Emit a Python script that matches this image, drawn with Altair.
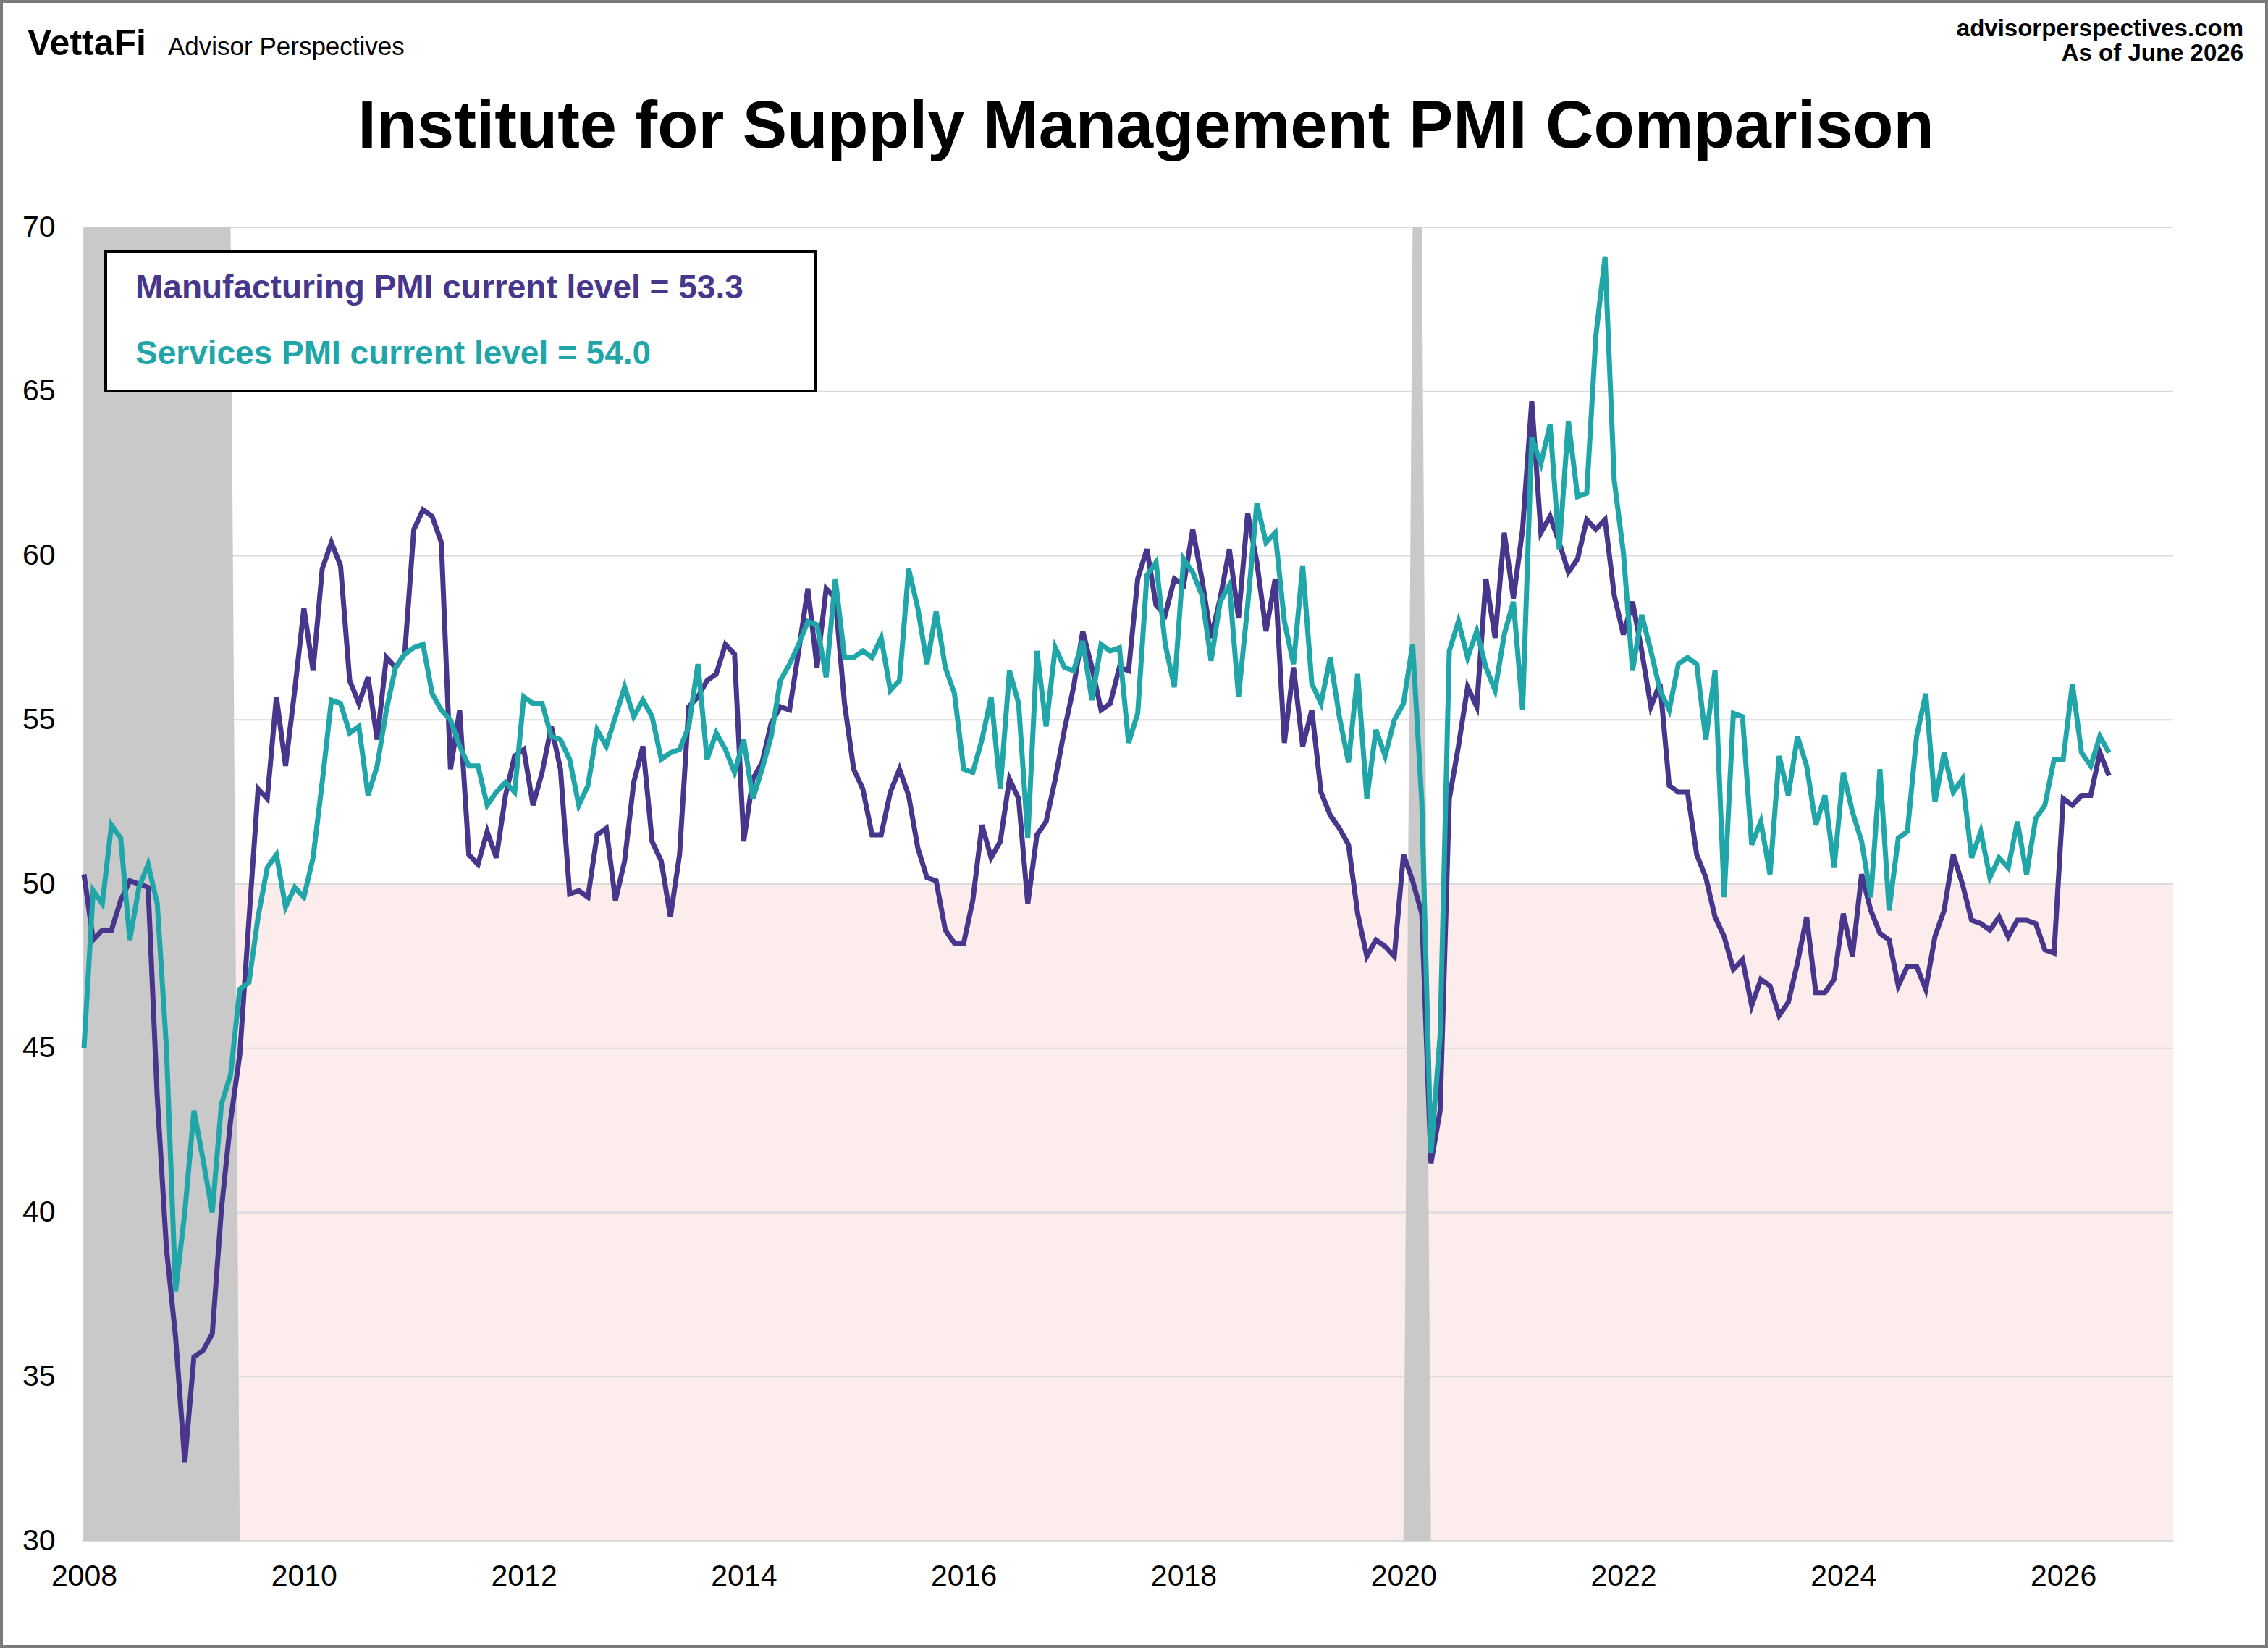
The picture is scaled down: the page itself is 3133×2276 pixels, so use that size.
import altair as alt
import pandas as pd

# ---------------- data (monthly, Jan 2008 - Jun 2026) ----------------
manufacturing = [
    50.3, 48.3, 48.6, 48.6, 49.5, 50.1, 50.0, 49.9, 43.5, 38.9, 36.2, 32.4,  # 2008
    35.6, 35.8, 36.3, 40.1, 42.8, 44.8, 48.9, 52.9, 52.6, 55.7, 53.6, 55.9,  # 2009
    58.4, 56.5, 59.6, 60.4, 59.7, 56.2, 55.5, 56.3, 54.4, 56.9, 56.6, 57.0,  # 2010
    60.8, 61.4, 61.2, 60.4, 53.5, 55.3, 50.9, 50.6, 51.6, 50.8, 52.7, 53.9,  # 2011
    54.1, 52.4, 53.4, 54.8, 53.5, 49.7, 49.8, 49.6, 51.5, 51.7, 49.5, 50.7,  # 2012
    53.1, 54.2, 51.3, 50.7, 49.0, 50.9, 55.4, 55.7, 56.2, 56.4, 57.3, 57.0,  # 2013
    51.3, 53.2, 53.7, 54.9, 55.4, 55.3, 57.1, 59.0, 56.6, 59.0, 58.7, 55.5,  # 2014
    53.5, 52.9, 51.5, 51.5, 52.8, 53.5, 52.7, 51.1, 50.2, 50.1, 48.6, 48.2,  # 2015
    48.2, 49.5, 51.8, 50.8, 51.3, 53.2, 52.6, 49.4, 51.5, 51.9, 53.2, 54.7,  # 2016
    56.0, 57.7, 56.6, 55.3, 55.5, 56.6, 56.5, 59.3, 60.2, 58.5, 58.2, 59.3,  # 2017
    59.1, 60.8, 59.3, 57.5, 58.7, 60.2, 58.1, 61.3, 59.8, 57.7, 59.3, 54.3,  # 2018
    56.6, 54.2, 55.3, 52.8, 52.1, 51.7, 51.2, 49.1, 47.8, 48.3, 48.1, 47.8,  # 2019
    50.9, 50.1, 49.1, 41.5, 43.1, 52.6, 54.2, 56.0, 55.4, 59.3, 57.5, 60.7,  # 2020
    58.7, 60.8, 64.7, 60.7, 61.2, 60.4, 59.5, 59.9, 61.1, 60.8, 61.1, 58.8,  # 2021
    57.6, 58.6, 57.1, 55.4, 56.1, 53.0, 52.8, 52.8, 50.9, 50.2, 49.0, 48.4,  # 2022
    47.4, 47.7, 46.3, 47.1, 46.9, 46.0, 46.4, 47.6, 49.0, 46.7, 46.7, 47.1,  # 2023
    49.1, 47.8, 50.3, 49.2, 48.5, 48.3, 46.9, 47.5, 47.5, 46.8, 48.4, 49.2,  # 2024
    50.9, 50.0, 48.9, 48.8, 48.6, 49.0, 48.4, 48.9, 48.9, 48.8, 48.0, 47.9,  # 2025
    52.6, 52.4, 52.7, 52.7, 54.0, 53.3,                                      # 2026
]

services = [
    45.0, 49.8, 49.4, 51.8, 51.4, 48.3, 49.9, 50.6, 49.4, 45.0, 37.6, 40.0,  # 2008
    43.1, 41.6, 40.0, 43.3, 44.2, 46.8, 47.0, 49.0, 50.5, 50.9, 49.3, 49.9,  # 2009
    49.6, 50.8, 53.1, 55.6, 55.5, 54.6, 54.8, 52.7, 53.6, 55.3, 56.6, 57.0,  # 2010
    57.2, 57.3, 55.8, 55.3, 55.0, 54.2, 53.6, 53.6, 52.4, 52.8, 53.1, 52.8,  # 2011
    55.7, 55.5, 55.5, 54.5, 54.4, 53.8, 52.4, 53.0, 54.7, 54.2, 55.1, 56.0,  # 2012
    55.1, 55.6, 55.1, 53.8, 54.0, 54.1, 54.8, 56.7, 53.8, 54.6, 54.1, 53.4,  # 2013
    54.4, 52.6, 53.5, 54.5, 56.2, 56.7, 57.3, 58.0, 57.9, 56.3, 59.3, 56.9,  # 2014
    56.9, 57.1, 56.9, 57.5, 55.9, 56.2, 59.6, 58.4, 56.7, 58.3, 56.6, 55.8,  # 2015
    53.5, 53.4, 54.4, 55.7, 52.9, 56.5, 55.5, 51.4, 57.1, 54.8, 57.2, 56.6,  # 2016
    56.5, 57.4, 55.6, 57.3, 57.1, 57.2, 54.3, 55.2, 59.4, 59.8, 57.3, 56.0,  # 2017
    59.9, 59.5, 58.8, 56.8, 58.6, 59.1, 55.7, 58.5, 61.6, 60.4, 60.7, 58.0,  # 2018
    56.7, 59.7, 56.1, 55.5, 56.9, 55.1, 53.7, 56.4, 52.6, 54.7, 53.9, 55.0,  # 2019
    55.5, 57.3, 52.5, 41.8, 45.4, 57.1, 58.0, 56.9, 57.7, 56.6, 55.9, 57.6,  # 2020
    58.6, 55.3, 63.6, 62.8, 64.0, 60.2, 64.1, 61.8, 61.9, 66.7, 69.1, 62.3,  # 2021
    60.1, 56.5, 58.2, 57.1, 55.9, 55.3, 56.7, 56.9, 56.7, 54.4, 56.5, 49.6,  # 2022
    55.2, 55.1, 51.2, 51.9, 50.3, 53.9, 52.7, 54.5, 53.6, 51.8, 52.7, 50.5,  # 2023
    53.4, 52.2, 51.3, 49.6, 53.5, 49.2, 51.4, 51.6, 54.5, 55.8, 52.5, 54.0,  # 2024
    52.8, 53.2, 50.8, 51.6, 50.2, 50.8, 50.5, 51.9, 50.3, 52.0, 52.4, 53.8,  # 2025
    53.8, 56.1, 54.0, 53.6, 54.5, 54.0,                                      # 2026
]

# recession shading (NBER): 70 = inside recession, 30 = outside (axis floor)
recession_a_year = [2008, 2009, 2009]
recession_a_month = [1, 5, 6]
recession_a_top = [70, 70, 30]
recession_b_year = [2020, 2020, 2020, 2020]
recession_b_month = [1, 2, 3, 4]
recession_b_top = [30, 70, 70, 30]

y_ticks = [30, 35, 40, 45, 50, 55, 60, 65, 70]
x_ticks = [2008, 2010, 2012, 2014, 2016, 2018, 2020, 2022, 2024, 2026]

PURPLE = "#47368b"
TEAL = "#20a6a9"
FONT = "Liberation Sans"

# ---------------- tables ----------------
dates = pd.date_range("2008-01-01", periods=len(manufacturing), freq="MS")
t = dates.year + (dates.month - 1) / 12.0
df_m = pd.DataFrame({"t": t, "v": manufacturing})
df_s = pd.DataFrame({"t": t, "v": services})


def rec_frame(years, months, tops):
    return pd.DataFrame({
        "t": [y + (m - 1) / 12.0 for y, m in zip(years, months)],
        "top": tops,
        "base": [30] * len(tops),
    })


df_rec_a = rec_frame(recession_a_year, recession_a_month, recession_a_top)
df_rec_b = rec_frame(recession_b_year, recession_b_month, recession_b_top)
df_grid = pd.DataFrame({"v": y_ticks})

x_scale = alt.Scale(domain=[2008, 2027], nice=False, zero=False)
y_scale = alt.Scale(domain=[30, 70], nice=False, zero=False)

x_axis = alt.Axis(values=x_ticks, format="d", title=None, grid=False, ticks=False,
                  tickSize=0, domain=False, labelPadding=29, labelFontSize=41,
                  labelFont=FONT, labelColor="#000000", labelFlush=False)
y_axis = alt.Axis(values=y_ticks, title=None, grid=False, ticks=False, tickSize=0,
                  domain=True, domainColor="#a0a0a0", domainWidth=2,
                  labelPadding=40, labelFontSize=41, labelFont=FONT,
                  labelColor="#000000")

# pink contraction zone (below 50)
pink = alt.Chart(pd.DataFrame({"a": [2008], "b": [2027], "lo": [30], "hi": [50]})).mark_rect(
    color="#fcedec"
).encode(
    x=alt.X("a:Q", scale=x_scale, axis=x_axis),
    x2="b:Q",
    y=alt.Y("lo:Q", scale=y_scale, axis=y_axis),
    y2="hi:Q",
)

grid = alt.Chart(df_grid).mark_rule(color="#dadada", strokeWidth=2).encode(
    y=alt.Y("v:Q", scale=y_scale)
)


def rec_layer(df):
    return alt.Chart(df).mark_area(color="#c9c9c9", opacity=1, interpolate="linear").encode(
        x=alt.X("t:Q", scale=x_scale),
        y=alt.Y("top:Q", scale=y_scale, stack=None),
        y2="base:Q",
    )


recess_a = rec_layer(df_rec_a)
recess_b = rec_layer(df_rec_b)

line_m = alt.Chart(df_m).mark_line(color=PURPLE, strokeWidth=7, strokeJoin="miter").encode(
    x=alt.X("t:Q", scale=x_scale),
    y=alt.Y("v:Q", scale=y_scale),
)
line_s = alt.Chart(df_s).mark_line(color=TEAL, strokeWidth=7, strokeJoin="miter").encode(
    x=alt.X("t:Q", scale=x_scale),
    y=alt.Y("v:Q", scale=y_scale),
)

# ---------------- annotations (pixel positions relative to plot origin) ----------------
one = pd.DataFrame({"k": [0]})

legend_box = alt.Chart(one).mark_rect(fill="white", stroke="black", strokeWidth=4).encode(
    x=alt.value(30), x2=alt.value(1010), y=alt.value(33), y2=alt.value(226)
)


def label(txt, x, y, size, color="black", weight="normal", align="left"):
    return alt.Chart(pd.DataFrame({"txt": [txt]})).mark_text(
        font=FONT, fontSize=size, fontWeight=weight, color=color, align=align,
        baseline="alphabetic"
    ).encode(x=alt.value(x), y=alt.value(y), text="txt:N")


leg1 = label(f"Manufacturing PMI current level = {manufacturing[-1]:.1f}", 71, 98, 46, PURPLE, "bold")
leg2 = label(f"Services PMI current level = {services[-1]:.1f}", 71, 189, 46, TEAL, "bold")

title = label("Institute for Supply Management PMI Comparison", 1467, -110, 92, "black", "bold", "center")
brand = label("VettaFi", -78, -238, 50, "black", "bold")
brand2 = label("Advisor Perspectives", 116, -238, 35, "black", "normal")
site = label("advisorperspectives.com", 2983, -264, 33, "black", "bold", "right")
asof = label("As of June 2026", 2983, -230, 33, "black", "bold", "right")

frame = alt.Chart(one).mark_rect(fill="white", fillOpacity=0, stroke="#7a7a7a", strokeWidth=4).encode(
    x=alt.value(-114), x2=alt.value(3015), y=alt.value(-312), y2=alt.value(1960)
)

chart = alt.layer(
    pink, grid, recess_a, recess_b, line_m, line_s,
    legend_box, leg1, leg2, title, brand, brand2, site, asof, frame
).properties(
    width=2886,
    height=1814,
    padding={"left": 116, "right": 131, "top": 314, "bottom": 148},
    autosize=alt.AutoSizeParams(type="none"),
    background="white",
).configure_view(stroke=None)

chart.save("out.html", embed_options={"renderer": "svg", "actions": False})
